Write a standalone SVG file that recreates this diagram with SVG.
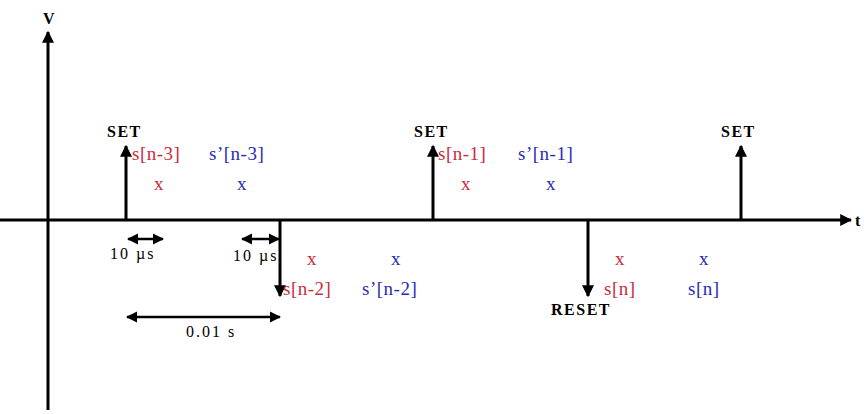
<svg xmlns="http://www.w3.org/2000/svg" width="864" height="414" viewBox="0 0 864 414">
<style>
.ax{stroke:#000;stroke-width:3;fill:none}
.pl{stroke:#000;stroke-width:3;fill:none}
.dim{stroke:#000;stroke-width:2.5;fill:none}
.lbl{font-family:"Liberation Serif",serif;font-weight:bold;font-size:16px;letter-spacing:1.5px;fill:#000}
.red{font-family:"Liberation Serif",serif;font-size:19px;letter-spacing:0.5px;fill:#cc2b3b}
.blue{font-family:"Liberation Serif",serif;font-size:19px;letter-spacing:0.5px;fill:#2a2ab8}
.sm{font-family:"Liberation Serif",serif;font-size:16px;letter-spacing:2px;fill:#000}
</style>
<defs>
<marker id="ah" viewBox="0 0 10 10" refX="9" refY="5" markerWidth="4" markerHeight="4" orient="auto-start-reverse" markerUnits="strokeWidth">
<path d="M0,0 L10,5 L0,10 z" fill="#000"/>
</marker>
<marker id="ah2" viewBox="0 0 10 10" refX="9" refY="5" markerWidth="4.5" markerHeight="4.5" orient="auto-start-reverse" markerUnits="strokeWidth">
<path d="M0,0 L10,5 L0,10 z" fill="#000"/>
</marker>
</defs>
<rect width="864" height="414" fill="#fff"/>
<g id="axes">
<line class="ax" x1="48" y1="410" x2="48" y2="32" marker-end="url(#ah)"/>
<line class="ax" x1="0" y1="220" x2="851" y2="220" marker-end="url(#ah)"/>
<text class="lbl" x="43" y="24" font-size="17">V</text>
<text class="lbl" x="855" y="226" font-size="17">t</text>
</g>
<g id="connectors">
<line class="pl" x1="126" y1="220" x2="126" y2="146" marker-end="url(#ah)"/>
<line class="pl" x1="433" y1="220" x2="433" y2="146" marker-end="url(#ah)"/>
<line class="pl" x1="741" y1="220" x2="741" y2="146" marker-end="url(#ah)"/>
<line class="pl" x1="280" y1="220" x2="280" y2="296" marker-end="url(#ah)"/>
<line class="pl" x1="588" y1="220" x2="588" y2="296" marker-end="url(#ah)"/>
<line class="dim" x1="128" y1="239" x2="163" y2="239" marker-start="url(#ah2)" marker-end="url(#ah2)"/>
<line class="dim" x1="242" y1="239" x2="279" y2="239" marker-start="url(#ah2)" marker-end="url(#ah2)"/>
<line class="dim" x1="127" y1="317" x2="280" y2="317" marker-start="url(#ah2)" marker-end="url(#ah2)"/>
</g>
<g id="pulse-set1">
<text class="lbl" x="107" y="137">SET</text>
<text class="red" x="132" y="160">s[n-3]</text>
<text class="blue" x="209" y="160">s’[n-3]</text>
<text class="red" x="154" y="190">x</text>
<text class="blue" x="237" y="190">x</text>
</g>
<g id="pulse-set2">
<text class="lbl" x="414" y="137">SET</text>
<text class="red" x="438" y="160">s[n-1]</text>
<text class="blue" x="518" y="160">s’[n-1]</text>
<text class="red" x="461" y="190">x</text>
<text class="blue" x="546" y="190">x</text>
</g>
<g id="pulse-set3">
<text class="lbl" x="721" y="137">SET</text>
</g>
<g id="pulse-reset1">
<text class="red" x="307" y="265">x</text>
<text class="blue" x="391" y="265">x</text>
<text class="red" x="283" y="295">s[n-2]</text>
<text class="blue" x="362" y="295">s’[n-2]</text>
</g>
<g id="pulse-reset2">
<text class="lbl" x="551" y="315">RESET</text>
<text class="red" x="615" y="265">x</text>
<text class="blue" x="699" y="265">x</text>
<text class="red" x="604" y="295">s[n]</text>
<text class="blue" x="688" y="295">s[n]</text>
</g>
<g id="dims">
<text class="sm" x="110" y="259">10 µs</text>
<text class="sm" x="233" y="261">10 µs</text>
<text class="sm" x="186" y="337">0.01 s</text>
</g>
</svg>
